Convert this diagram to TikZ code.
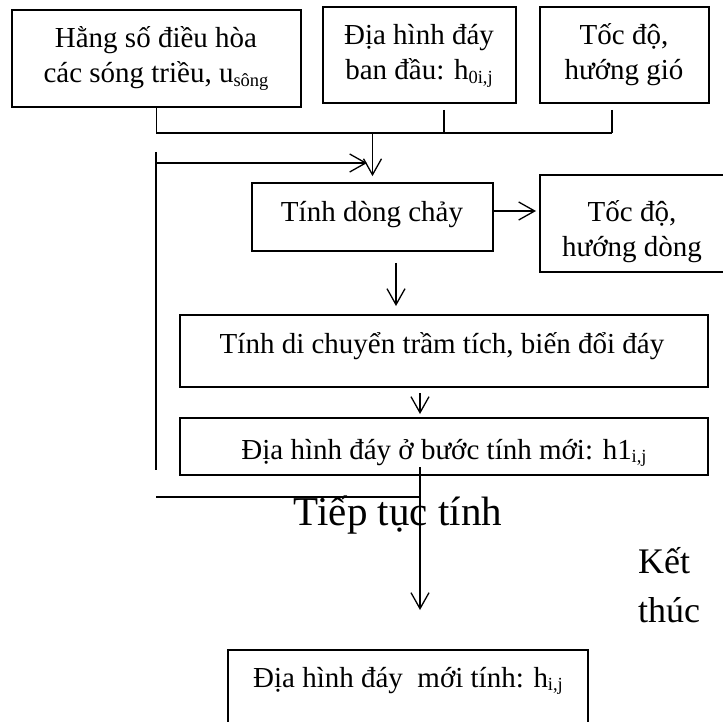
\documentclass[tikz,border=0pt]{standalone}
\usepackage{fontspec}
\setmainfont{Liberation Serif}
\usetikzlibrary{arrows.meta,calc}
\newcommand{\sbs}[1]{\raisebox{-0.12em}{\fontsize{18.5}{19}\selectfont #1}}
\begin{document}
\begin{tikzpicture}[x=1pt,y=-1pt,
  box/.style={draw,line width=1.8pt,inner sep=0pt},
  lbl/.style={anchor=base,inner sep=0pt,font=\fontsize{29}{35}\selectfont},
  big/.style={anchor=base,inner sep=0pt,font=\fontsize{41}{48}\selectfont},
  bigw/.style={anchor=base west,inner sep=0pt,font=\fontsize{36}{44}\selectfont},
  conn/.style={line width=1.3pt},
  arr/.style={conn,-{Straight Barb[length=16pt,width=18pt,line width=1.3pt]}}]
\useasboundingbox (0,0) rectangle (723,722);
\fill[white] (0,0) rectangle (723,722);
% boxes
\node[box,minimum width=289pt,minimum height=97pt] (b1) at (156.5,58.5) {};
\node[box,minimum width=193pt,minimum height=96pt] (b2) at (419.5,55) {};
\node[box,minimum width=169pt,minimum height=96pt] (b3) at (624.5,55) {};
\node[box,minimum width=241pt,minimum height=68pt] (b4) at (372.5,217) {};
\node[box,minimum width=186pt,minimum height=97pt] (b5) at (633,223.5) {};
\node[box,minimum width=528pt,minimum height=72pt] (b6) at (444,351) {};
\node[box,minimum width=528pt,minimum height=57pt] (b7) at (444,446.5) {};
\node[box,minimum width=360pt,minimum height=95pt] (b8) at (408,697.5) {};
% texts
\node[lbl] (t1a) at (156,48) {Hằng số điều hòa};
\node[lbl] (t1b) at (156,83) {các sóng triều, u\sbs{sông}};
\node[lbl] (t2a) at (419,45) {Địa hình đáy};
\node[lbl] (t2b) at (419,80) {ban đầu: h\sbs{0i,j}};
\node[lbl] (t3a) at (624,45) {Tốc độ,};
\node[lbl] (t3b) at (624,80) {hướng gió};
\node[lbl] (t4) at (372,222) {Tính dòng chảy};
\node[lbl] (t5a) at (632,222) {Tốc độ,};
\node[lbl] (t5b) at (632,257) {hướng dòng};
\node[lbl] (t6) at (442,353) {Tính di chuyển trầm tích, biến đổi đáy};
\node[lbl] (t7) at (444,459) {Địa hình đáy ở bước tính mới: h1\sbs{i,j}};
\node[lbl] (t8) at (408,687) {Địa hình đáy~ mới tính: h\sbs{i,j}};
\node[big] (tt) at (398,525) {Tiếp tục tính};
\node[bigw] (kt1) at (638,573) {Kết};
\node[bigw] (kt2) at (638,622) {thúc};
% connector points
\coordinate (j3) at (612,133);
\coordinate (s2) at (444,110);
\coordinate (e2) at (444,133);
\coordinate (s3) at (612,110);
\coordinate (ja) at (b4.north |- j3);
\coordinate (l1) at (156,152);
\coordinate (l2) at (156,470);
\coordinate (h1) at (156,163);
\coordinate (h1e) at (367,163);
\coordinate (r1) at (493,211);
\coordinate (r1e) at (536,211);
\coordinate (d1) at (396,263);
\coordinate (d1e) at (396,306);
\coordinate (d2) at (420,393);
\coordinate (d2e) at (420,414);
\coordinate (d3) at (420,467);
\coordinate (d3e) at (420,610);
\coordinate (c1) at (156,497);
\coordinate (c2) at (420,497);
% connectors
\draw[conn] (b1.south) |- (j3);
\draw[conn] (s2) -- (e2);
\draw[conn] (s3) -- (j3);
\draw[arr] (ja) -- ($(b4.north)+(0,-6)$);
\draw[conn] (l1) -- (l2);
\draw[arr] (h1) -- (h1e);
\draw[arr] (r1) -- (r1e);
\draw[arr] (d1) -- (d1e);
\draw[arr] (d2) -- (d2e);
\draw[arr] (d3) -- (d3e);
\draw[conn] (c1) -- (c2);
\end{tikzpicture}
\end{document}
